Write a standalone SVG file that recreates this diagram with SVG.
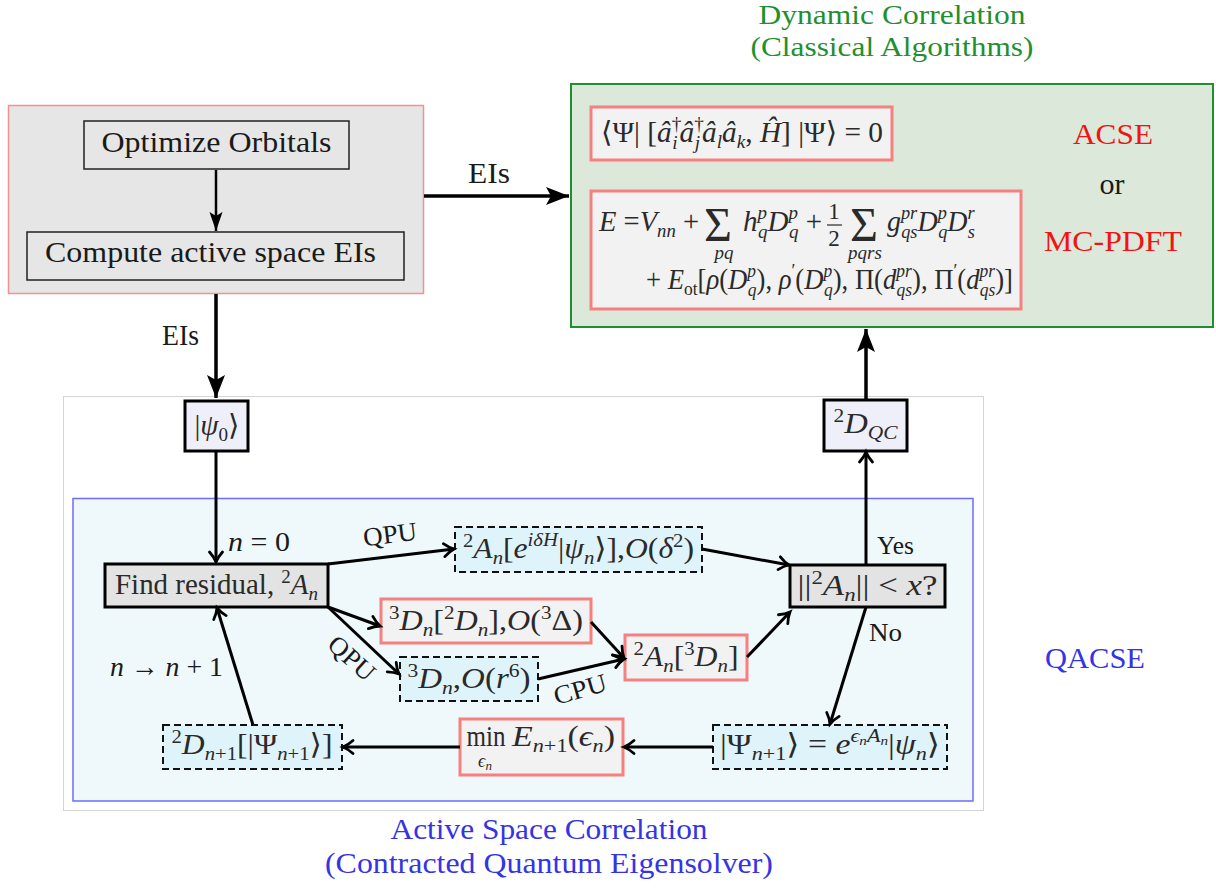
<svg xmlns="http://www.w3.org/2000/svg" width="1216" height="888" viewBox="0 0 1216 888">
<style>
.t{font-family:"Liberation Serif","DejaVu Serif",serif;fill:#1a1a1a}
.m{font-family:"Liberation Serif","DejaVu Serif",serif;fill:#2a2a2a;font-size:29px}
.M{font-family:"Liberation Serif","DejaVu Serif",serif;fill:#2a2a2a;font-size:29px}
.i{font-style:italic}
.s{font-size:19px}
.S{font-size:19px}
.c{text-anchor:middle}
.green{fill:#1f8f2f}
.blue{fill:#3434e6}
.red{fill:#f01414}
.conn{stroke:#000;stroke-width:3;fill:none}
.dash{fill:#dff3fb;stroke:#111;stroke-width:2;stroke-dasharray:7,4}
.redbox{fill:#f2f2f2;stroke:#f58080;stroke-width:3}
.blk{stroke:#000;stroke-width:3}
</style>
<defs>
<marker id="chev" markerUnits="userSpaceOnUse" markerWidth="16" markerHeight="16" refX="12" refY="8" orient="auto" overflow="visible">
<path d="M2,1.5 Q7,6 12,8 Q7,10 2,14.5" fill="none" stroke="#000" stroke-width="2.8" stroke-linecap="round"/>
</marker>
<marker id="stealth" markerUnits="userSpaceOnUse" markerWidth="24" markerHeight="20" refX="23" refY="10" orient="auto" overflow="visible">
<path d="M0,1 L23,10 L0,19 L5,10 Z" fill="#000"/>
</marker>
<marker id="stealthS" markerUnits="userSpaceOnUse" markerWidth="20" markerHeight="14" refX="19" refY="7" orient="auto" overflow="visible">
<path d="M0,0.5 L19,7 L0,13.5 L4,7 Z" fill="#000"/>
</marker>
</defs>
<rect width="1216" height="888" fill="#fff"/>

<!-- frame of QACSE area -->
<rect x="63.5" y="396.5" width="920" height="414" fill="#fff" stroke="#d4d4d4" stroke-width="1"/>

<!-- Orbital optimization group -->
<g id="orbitals">
<rect x="8.5" y="105.5" width="415" height="188" fill="#e6e6e6" stroke="#f59090" stroke-width="1.5"/>
<g id="optimize">
<rect x="84" y="121" width="265" height="48" fill="#e6e6e6" stroke="#222" stroke-width="1.5"/>
<text class="t" x="216.5" y="152" font-size="30" text-anchor="middle" textLength="230" lengthAdjust="spacingAndGlyphs">Optimize Orbitals</text>
</g>
<g id="compute">
<rect x="27" y="232" width="377" height="48" fill="#e6e6e6" stroke="#222" stroke-width="1.5"/>
<text class="t" x="210.5" y="262" font-size="30" text-anchor="middle" textLength="331" lengthAdjust="spacingAndGlyphs">Compute active space EIs</text>
</g>
</g>

<!-- Dynamic correlation group -->
<g id="dynamic">
<text class="t green c" x="892" y="24" font-size="28" textLength="267" lengthAdjust="spacingAndGlyphs">Dynamic Correlation</text>
<text class="t green c" x="892" y="56" font-size="28" textLength="283" lengthAdjust="spacingAndGlyphs">(Classical Algorithms)</text>
<rect x="571" y="84" width="642" height="243" fill="#dce9da" stroke="#1f8f2f" stroke-width="2"/>
<g id="acse-eq">
<rect x="591" y="107" width="301" height="53" class="redbox"/>
<text class="M" x="601" y="142" textLength="282" lengthAdjust="spacingAndGlyphs">⟨Ψ| [<tspan class="i">â</tspan><tspan class="S" dy="-12">†</tspan><tspan class="S i" dx="-9" dy="19">i</tspan><tspan class="i" dx="2" dy="-7">â</tspan><tspan class="S" dy="-12">†</tspan><tspan class="S i" dx="-9" dy="19">j</tspan><tspan class="i" dx="2" dy="-7">â</tspan><tspan class="S i" dy="6">l</tspan><tspan class="i" dy="-6">â</tspan><tspan class="S i" dy="6">k</tspan><tspan dy="-6">, </tspan><tspan class="i">Ĥ</tspan>] |Ψ⟩ = 0</text>
</g>
<g id="pdft-eq">
<rect x="591" y="191" width="430" height="118" class="redbox"/>
<text class="M" x="599" y="231" textLength="100" lengthAdjust="spacingAndGlyphs"><tspan class="i">E</tspan> =<tspan class="i">V</tspan><tspan class="S i" dy="6">nn</tspan><tspan dy="-6"> +</tspan></text>
<text class="M" x="704" y="241" style="font-size:48px">Σ</text>
<text class="M i c" x="724" y="259" style="font-size:19px">pq</text>
<text class="M" x="743" y="231"><tspan class="i">h</tspan><tspan class="S i" dy="-12">p</tspan><tspan class="S i" dx="-9" dy="19">q</tspan><tspan class="i" dy="-7">D</tspan><tspan class="S i" dy="-12">p</tspan><tspan class="S i" dx="-9" dy="19">q</tspan><tspan dy="-7"> +</tspan></text>
<text class="M c" x="834" y="219" style="font-size:23px">1</text>
<line x1="827" y1="225" x2="842" y2="225" stroke="#2a2a2a" stroke-width="1.2"/>
<text class="M c" x="834" y="246" style="font-size:23px">2</text>
<text class="M" x="850" y="241" style="font-size:48px">Σ</text>
<text class="M i c" x="865" y="259" style="font-size:19px">pqrs</text>
<text class="M" x="887" y="231" textLength="88" lengthAdjust="spacingAndGlyphs"><tspan class="i">g</tspan><tspan class="S i" dy="-12">pr</tspan><tspan class="S i" dx="-16" dy="19">qs</tspan><tspan class="i" dy="-7">D</tspan><tspan class="S i" dy="-12">p</tspan><tspan class="S i" dx="-9" dy="19">q</tspan><tspan class="i" dy="-7">D</tspan><tspan class="S i" dy="-12">r</tspan><tspan class="S i" dx="-7" dy="19">s</tspan></text>
<text class="M" x="646" y="289" textLength="367" lengthAdjust="spacingAndGlyphs">+ <tspan class="i">E</tspan><tspan class="S" dy="6">ot</tspan><tspan dy="-6">[</tspan><tspan class="i">ρ</tspan>(<tspan class="i">D</tspan><tspan class="S i" dy="-12">p</tspan><tspan class="S i" dx="-9" dy="19">q</tspan><tspan dy="-7">), </tspan><tspan class="i">ρ</tspan><tspan class="S" dy="-12">′</tspan><tspan dy="12">(</tspan><tspan class="i">D</tspan><tspan class="S i" dy="-12">p</tspan><tspan class="S i" dx="-9" dy="19">q</tspan><tspan dy="-7">), Π(</tspan><tspan class="i">d</tspan><tspan class="S i" dy="-12">pr</tspan><tspan class="S i" dx="-16" dy="19">qs</tspan><tspan dy="-7">), Π</tspan><tspan class="S" dy="-12">′</tspan><tspan dy="12">(</tspan><tspan class="i">d</tspan><tspan class="S i" dy="-12">pr</tspan><tspan class="S i" dx="-16" dy="19">qs</tspan><tspan dy="-7">)]</tspan></text>
</g>
<text class="t red c" x="1113" y="144" font-size="30" textLength="80" lengthAdjust="spacingAndGlyphs">ACSE</text>
<text class="t c" x="1112" y="194" font-size="30">or</text>
<text class="t red c" x="1113" y="251" font-size="30" textLength="138" lengthAdjust="spacingAndGlyphs">MC-PDFT</text>
</g>

<!-- QACSE region -->
<rect x="73" y="498.5" width="900" height="302.5" fill="#eff8fb" stroke="#6b6bff" stroke-width="1.5"/>
<text class="t blue c" x="1095" y="668" font-size="30" textLength="100" lengthAdjust="spacingAndGlyphs">QACSE</text>
<text class="t blue c" x="549" y="839" font-size="30" textLength="317" lengthAdjust="spacingAndGlyphs">Active Space Correlation</text>
<text class="t blue c" x="549" y="873" font-size="30" textLength="448" lengthAdjust="spacingAndGlyphs">(Contracted Quantum Eigensolver)</text>

<g id="psi0">
<rect x="185" y="401" width="63" height="50" fill="#efeffa" class="blk"/>
<text class="m c" x="217" y="435" textLength="45" lengthAdjust="spacingAndGlyphs">|<tspan class="i">ψ</tspan><tspan class="s" dy="6">0</tspan><tspan dy="-6">⟩</tspan></text>
</g>
<g id="d2qc">
<rect x="824" y="400" width="83" height="51" fill="#efeffa" class="blk"/>
<text class="m c" x="865.5" y="433" textLength="64" lengthAdjust="spacingAndGlyphs"><tspan class="s" dy="-11">2</tspan><tspan class="i" dy="11">D</tspan><tspan class="s i" dy="6">QC</tspan></text>
</g>
<g id="residual">
<rect x="105" y="564" width="223" height="43" fill="#e3e3e3" class="blk"/>
<text class="m c" x="216.5" y="594" textLength="203" lengthAdjust="spacingAndGlyphs">Find residual, <tspan class="s" dy="-11">2</tspan><tspan class="i" dy="11">A</tspan><tspan class="s i" dy="6">n</tspan></text>
</g>
<g id="check">
<rect x="790" y="565" width="155" height="42" fill="#e3e3e3" class="blk"/>
<text class="m c" x="867.5" y="595" textLength="140" lengthAdjust="spacingAndGlyphs">||<tspan class="s" dy="-11">2</tspan><tspan class="i" dy="11">A</tspan><tspan class="s i" dy="6">n</tspan><tspan dy="-6">|| &lt; </tspan><tspan class="i">x</tspan>?</text>
</g>
<g id="a-qpu">
<rect x="455" y="527" width="247" height="45" class="dash"/>
<text class="m c" x="578.5" y="558" textLength="231" lengthAdjust="spacingAndGlyphs"><tspan class="s" dy="-11">2</tspan><tspan class="i" dy="11">A</tspan><tspan class="s i" dy="6">n</tspan><tspan dy="-6">[</tspan><tspan class="i">e</tspan><tspan class="s i" dy="-12">iδH</tspan><tspan dy="12">|</tspan><tspan class="i">ψ</tspan><tspan class="s i" dy="6">n</tspan><tspan dy="-6">⟩],</tspan><tspan class="i">O</tspan>(<tspan class="i">δ</tspan><tspan class="s" dy="-11">2</tspan><tspan dy="11">)</tspan></text>
</g>
<g id="d3-approx">
<rect x="381" y="599" width="210" height="44" class="redbox"/>
<text class="m c" x="486" y="630" textLength="194" lengthAdjust="spacingAndGlyphs"><tspan class="s" dy="-11">3</tspan><tspan class="i" dy="11">D</tspan><tspan class="s i" dy="6">n</tspan><tspan dy="-6">[</tspan><tspan class="s" dy="-11">2</tspan><tspan class="i" dy="11">D</tspan><tspan class="s i" dy="6">n</tspan><tspan dy="-6">],</tspan><tspan class="i">O</tspan>(<tspan class="s" dy="-11">3</tspan><tspan dy="11">Δ)</tspan></text>
</g>
<g id="d3-qpu">
<rect x="400" y="657" width="138" height="44" class="dash"/>
<text class="m c" x="469" y="688" textLength="123" lengthAdjust="spacingAndGlyphs"><tspan class="s" dy="-11">3</tspan><tspan class="i" dy="11">D</tspan><tspan class="s i" dy="6">n</tspan><tspan dy="-6">,</tspan><tspan class="i">O</tspan>(<tspan class="i">r</tspan><tspan class="s" dy="-11">6</tspan><tspan dy="11">)</tspan></text>
</g>
<g id="a-d3">
<rect x="625" y="635" width="122" height="45" class="redbox"/>
<text class="m c" x="686" y="666" textLength="105" lengthAdjust="spacingAndGlyphs"><tspan class="s" dy="-11">2</tspan><tspan class="i" dy="11">A</tspan><tspan class="s i" dy="6">n</tspan><tspan dy="-6">[</tspan><tspan class="s" dy="-11">3</tspan><tspan class="i" dy="11">D</tspan><tspan class="s i" dy="6">n</tspan><tspan dy="-6">]</tspan></text>
</g>
<g id="update">
<rect x="713" y="725" width="234" height="44" class="dash"/>
<text class="m c" x="830" y="754" textLength="220" lengthAdjust="spacingAndGlyphs">|Ψ<tspan class="s i" dy="6">n</tspan><tspan class="s">+1</tspan><tspan dy="-6">⟩ = </tspan><tspan class="i">e</tspan><tspan class="s i" dy="-12">ϵ</tspan><tspan class="i" font-size="13" dy="3">n</tspan><tspan class="s i" dy="-3">A</tspan><tspan class="i" font-size="13" dy="3">n</tspan><tspan dy="9">|</tspan><tspan class="i">ψ</tspan><tspan class="s i" dy="6">n</tspan><tspan dy="-6">⟩</tspan></text>
</g>
<g id="minimize">
<rect x="460" y="719" width="163" height="56" class="redbox"/>
<text class="m c" x="486" y="746" textLength="39" lengthAdjust="spacingAndGlyphs">min</text>
<text class="m i c" x="485" y="767" style="font-size:18px">ϵ<tspan font-size="13" dy="3">n</tspan></text>
<text class="m" x="512" y="746" textLength="103" lengthAdjust="spacingAndGlyphs"><tspan class="i">E</tspan><tspan class="s i" dy="6">n</tspan><tspan class="s">+1</tspan><tspan dy="-6">(</tspan><tspan class="i">ϵ</tspan><tspan class="s i" dy="6">n</tspan><tspan dy="-6">)</tspan></text>
</g>
<g id="d2-next">
<rect x="163" y="725" width="179" height="44" class="dash"/>
<text class="m c" x="252" y="754" textLength="161" lengthAdjust="spacingAndGlyphs"><tspan class="s" dy="-11">2</tspan><tspan class="i" dy="11">D</tspan><tspan class="s i" dy="6">n</tspan><tspan class="s">+1</tspan><tspan dy="-6">[|Ψ</tspan><tspan class="s i" dy="6">n</tspan><tspan class="s">+1</tspan><tspan dy="-6">⟩]</tspan></text>
</g>

<!-- connectors -->
<g id="connectors">
<line x1="216" y1="170" x2="216" y2="231" stroke="#000" stroke-width="2.5" marker-end="url(#stealthS)"/>
<line x1="424" y1="196" x2="569" y2="196" stroke="#000" stroke-width="3.5" marker-end="url(#stealth)"/>
<line x1="216" y1="294" x2="216" y2="398" stroke="#000" stroke-width="3.5" marker-end="url(#stealth)"/>
<line x1="866" y1="399" x2="866" y2="329" stroke="#000" stroke-width="3.5" marker-end="url(#stealth)"/>
<line x1="216" y1="451" x2="216" y2="562" class="conn" marker-end="url(#chev)"/>
<line x1="328" y1="564" x2="454" y2="549" class="conn" marker-end="url(#chev)"/>
<line x1="328" y1="607" x2="380" y2="626" class="conn" marker-end="url(#chev)"/>
<line x1="328" y1="607" x2="399" y2="674" class="conn" marker-end="url(#chev)"/>
<line x1="538" y1="679" x2="624" y2="659" class="conn" marker-end="url(#chev)"/>
<line x1="591" y1="622" x2="624" y2="658" class="conn" marker-end="url(#chev)"/>
<line x1="747" y1="657" x2="790" y2="612" class="conn" marker-end="url(#chev)"/>
<line x1="702" y1="549" x2="789" y2="565" class="conn" marker-end="url(#chev)"/>
<line x1="866" y1="565" x2="866" y2="452" class="conn" marker-end="url(#chev)"/>
<line x1="866" y1="607" x2="830" y2="724" class="conn" marker-end="url(#chev)"/>
<line x1="713" y1="747" x2="624" y2="747" class="conn" marker-end="url(#chev)"/>
<line x1="460" y1="747" x2="343" y2="747" class="conn" marker-end="url(#chev)"/>
<line x1="253" y1="725" x2="217" y2="608" class="conn" marker-end="url(#chev)"/>
</g>

<!-- connector labels -->
<g id="labels">
<text class="t c" x="489" y="183" font-size="29" textLength="42" lengthAdjust="spacingAndGlyphs">EIs</text>
<text class="t c" x="180.5" y="345" font-size="29" textLength="37" lengthAdjust="spacingAndGlyphs">EIs</text>
<text class="t" x="228" y="551" font-size="28" textLength="62" lengthAdjust="spacingAndGlyphs"><tspan class="i">n</tspan> = 0</text>
<text class="t c" x="390" y="543" font-size="26" textLength="54" lengthAdjust="spacingAndGlyphs" transform="rotate(-7 390 534)">QPU</text>
<text class="t c" x="352" y="667" font-size="26" textLength="54" lengthAdjust="spacingAndGlyphs" transform="rotate(42 352 658)">QPU</text>
<text class="t c" x="580" y="698" font-size="26" textLength="54" lengthAdjust="spacingAndGlyphs" transform="rotate(-16 580 689)">CPU</text>
<text class="t" x="877" y="554" font-size="26" textLength="37" lengthAdjust="spacingAndGlyphs">Yes</text>
<text class="t" x="869" y="641" font-size="26" textLength="33" lengthAdjust="spacingAndGlyphs">No</text>
<text class="t" x="110" y="676" font-size="28" textLength="113" lengthAdjust="spacingAndGlyphs"><tspan class="i">n</tspan> → <tspan class="i">n</tspan> + 1</text>
</g>
</svg>
